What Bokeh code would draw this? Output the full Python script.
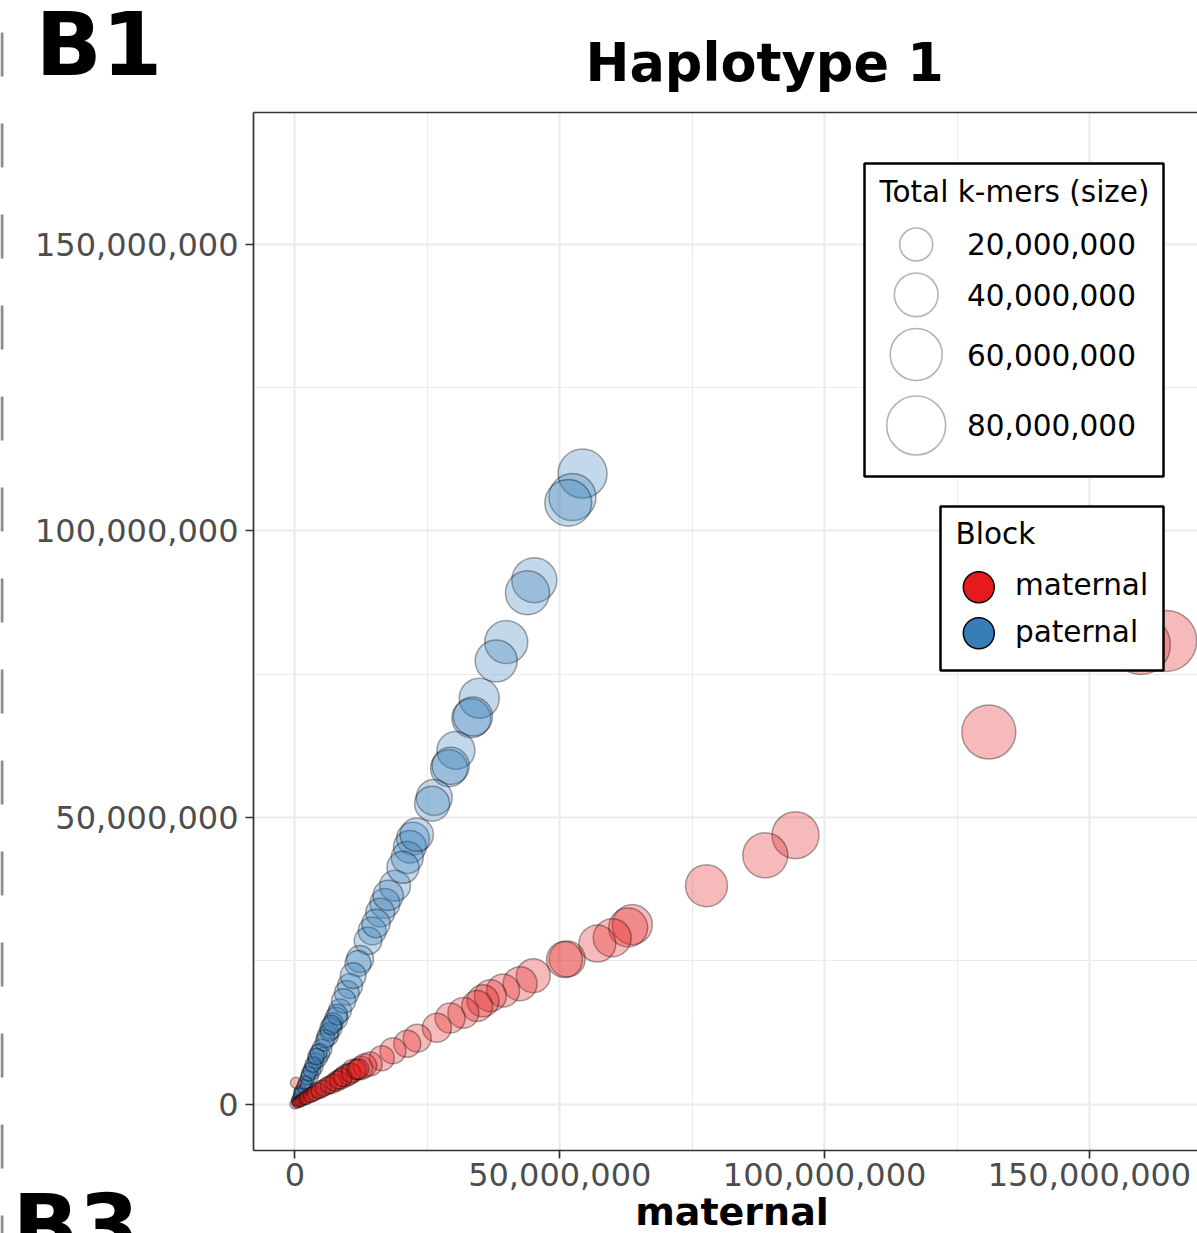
import math
from bokeh.plotting import figure
from bokeh.models import (ColumnDataSource, FixedTicker, NumeralTickFormatter, Label,
                          LinearAxis, Range1d, GridBox)
from bokeh.embed import file_html
from bokeh.resources import INLINE

# ---------------- data (millions of k-mers) ----------------
blocks = ["maternal", "paternal"]
block_colors = ["#E41A1C", "#377EB8"]
x_title = "maternal"
panel_title = "Haplotype 1"

pat_x = [54.3, 52.4, 51.6, 45.2, 43.9, 39.9, 38.0, 34.8, 33.3, 33.6, 30.4, 29.1, 29.4, 26.3,
         25.9, 22.3, 21.7, 21.2, 18.9, 17.0, 16.1, 14.6, 13.8, 12.3, 11.9, 10.4, 9.8, 8.5,
         7.8, 6.2, 5.1, 4.3, 3.6, 2.8, 2.1, 1.3, 0.8, 0.4, 1.0, 1.8, 3.2, 4.7, 6.8, 9.2,
         11.0, 15.3, 17.6, 20.4, 23.0,
         0.5, 1.1, 1.6, 2.4, 3.0, 3.9, 4.5, 5.5, 6.5, 7.2, 8.0,
         0.3, 0.9, 1.9, 2.6, 3.4, 4.0, 5.8, 6.9]
pat_y = [110.0, 105.9, 104.9, 91.4, 89.2, 80.6, 77.3, 70.8, 67.3, 67.6, 61.7, 58.6, 59.0, 53.5,
         52.4, 46.3, 44.9, 43.0, 38.1, 35.0, 33.4, 30.2, 28.5, 25.3, 24.5, 20.6, 19.4, 16.3,
         14.9, 11.9, 9.6, 8.0, 6.5, 4.9, 3.5, 2.3, 1.2, 0.5, 1.9, 3.0, 5.8, 8.8, 13.2, 18.0,
         22.4, 31.5, 36.4, 41.3, 47.0,
         0.9, 2.2, 3.1, 4.6, 5.9, 7.5, 9.0, 10.8, 12.6, 14.2, 15.6,
         0.6, 1.7, 3.8, 5.3, 6.9, 8.3, 11.4, 13.8]
pat_total = [52.3, 47.4, 47.0, 42.8, 40.5, 38.4, 36.3, 32.3, 30.3, 30.5, 28.5, 26.7, 27.0, 24.9,
             23.2, 20.0, 19.5, 18.5, 17.0, 15.7, 14.3, 13.0, 12.5, 11.8, 10.7, 9.6, 9.2, 7.6,
             7.4, 5.8, 5.0, 4.3, 3.6, 3.0, 1.9, 1.45, 0.74, 0.27, 1.2, 1.7, 3.3, 4.7, 6.6, 8.8,
             10.3, 13.5, 16.0, 18.5, 20.5,
             0.5, 0.8, 1.2, 1.6, 2.0, 2.5, 3.0, 3.6, 4.2, 4.8, 5.4,
             0.3, 0.6, 1.3, 1.8, 2.3, 2.8, 3.9, 4.6]

mat_x = [164.5, 159.7, 131.0, 94.5, 88.8, 77.7, 63.7, 62.9, 59.9, 57.1, 51.4, 50.9, 45.0, 42.5,
         39.3, 36.9, 35.5, 34.4, 31.8, 29.3, 26.8, 23.1, 21.2, 18.5, 16.4, 14.2, 11.0, 9.5,
         7.9, 6.0, 4.2, 2.5, 0.9, 0.0, 0.2, 0.4, 1.5, 3.3, 5.0, 7.0, 8.7, 10.2, 12.5, 13.2,
         0.6, 1.1, 1.8, 2.2, 2.9, 3.7, 4.5, 5.4, 6.4, 7.4, 8.2, 9.0, 10.6, 11.6, 12.0]
mat_y = [80.8, 80.1, 64.9, 46.9, 43.4, 38.1, 31.3, 30.8, 29.0, 28.0, 25.3, 25.2, 22.4, 21.0,
         19.8, 18.9, 18.0, 17.1, 15.9, 15.0, 13.3, 11.5, 10.5, 9.3, 8.0, 7.0, 5.8, 4.9,
         4.0, 3.1, 2.3, 1.4, 0.5, 0.0, 3.7, 0.2, 0.8, 1.7, 2.6, 3.5, 4.4, 5.2, 6.3, 6.7,
         0.3, 0.55, 0.95, 1.1, 1.5, 1.9, 2.3, 2.8, 3.3, 3.8, 4.2, 4.7, 5.4, 6.0, 6.1]
mat_total = [86.4, 80.1, 65.4, 47.4, 42.8, 36.3, 32.3, 30.3, 28.5, 26.7, 24.9, 24.9, 21.6, 21.6,
             20.0, 18.5, 18.5, 17.0, 17.0, 15.7, 14.3, 13.0, 11.8, 10.7, 9.6, 8.6, 7.6, 6.7,
             5.0, 3.6, 2.4, 1.45, 0.74, 0.27, 0.47, 0.3, 1.0, 2.0, 3.0, 4.2, 5.5, 6.5, 7.8, 8.2,
             0.4, 0.6, 0.9, 1.2, 1.5, 1.9, 2.2, 2.6, 3.0, 3.4, 3.8, 4.3, 4.8, 5.3, 5.5]

size_breaks = [20, 40, 60, 80]          # millions
size_break_labels = ["20,000,000", "40,000,000", "60,000,000", "80,000,000"]
x_ticks = [0, 50, 100, 150]
x_minor = [25, 75, 125]
y_ticks = [0, 50, 100, 150]
y_minor = [25, 75, 125]

M = 1e6

# ---------------- layout geometry ----------------
W, H = 1197, 1233
FL, FT, FR, FB = 253, 112, 1197, 1150
X0, X1 = -7.82e6, 170.4e6
Y0, Y1 = -8.11e6, 173.0e6
FONT = "DejaVu Sans"
BASE_FIX = 0.40   # alphabetic-baseline correction (em)


def size_px(t_millions):
    # area-type size scale (diameter in screen px)
    return 7.0 + 5.81 * math.sqrt(t_millions)


def sx(px):
    return px - FL


def sy(py):
    return FB - py


def xd(px):
    return X0 + (px - FL) / (FR - FL) * (X1 - X0)


def yd(py):
    return Y1 - (py - FT) / (FB - FT) * (Y1 - Y0)


p = figure(width=W, height=H, output_backend="svg", toolbar_location=None,
           x_range=Range1d(X0, X1), y_range=Range1d(Y0, Y1),
           min_border_left=FL, min_border_right=0, min_border_top=FT,
           min_border_bottom=H - FB, outline_line_color=None,
           background_fill_color="white", border_fill_color="white")
p.frame_align = False

# grids
for g in (p.xgrid[0], p.ygrid[0]):
    g.grid_line_color = "#EBEBEB"
    g.grid_line_width = 2.2
    g.minor_grid_line_color = "#EBEBEB"
    g.minor_grid_line_width = 1.1

p.xaxis[0].ticker = FixedTicker(ticks=[v * M for v in x_ticks], minor_ticks=[v * M for v in x_minor])
p.yaxis[0].ticker = FixedTicker(ticks=[v * M for v in y_ticks], minor_ticks=[v * M for v in y_minor])
p.xgrid[0].ticker = p.xaxis[0].ticker
p.ygrid[0].ticker = p.yaxis[0].ticker

for ax in (p.xaxis[0], p.yaxis[0]):
    ax.formatter = NumeralTickFormatter(format="0,0")
    ax.axis_line_color = "#333333"
    ax.axis_line_width = 1.7
    ax.major_tick_line_color = "#333333"
    ax.major_tick_line_width = 1.7
    ax.major_tick_in = 0
    ax.major_tick_out = 8
    ax.minor_tick_line_color = None
    ax.major_label_text_font = FONT
    ax.major_label_text_font_size = "32px"
    ax.major_label_text_color = "#4D4D4D"

p.yaxis[0].major_label_standoff = 7
p.xaxis[0].major_label_standoff = 4

top_axis = LinearAxis(ticker=FixedTicker(ticks=[]), axis_line_color="#333333",
                      axis_line_width=1.7, major_tick_line_color=None,
                      minor_tick_line_color=None, major_label_text_font_size="0px")
p.add_layout(top_axis, "above")


def make_src(xs, ys, ts):
    return ColumnDataSource(dict(x=[v * M for v in xs], y=[v * M for v in ys],
                                 total=[t * M for t in ts], size=[size_px(t) for t in ts]))


p.scatter("x", "y", size="size", source=make_src(pat_x, pat_y, pat_total),
          fill_color=block_colors[1], fill_alpha=0.3, line_color="black",
          line_alpha=0.35, line_width=1.5)
p.scatter("x", "y", size="size", source=make_src(mat_x, mat_y, mat_total),
          fill_color=block_colors[0], fill_alpha=0.3, line_color="black",
          line_alpha=0.35, line_width=1.5)

# ---------------- legends (drawn by hand) ----------------
p.quad(left=[xd(864)], right=[xd(1163)], top=[yd(163)], bottom=[yd(476)],
       fill_color="white", line_color="black", line_width=2.5)
key_y = [244, 294.3, 354, 425]
p.scatter(x=[xd(915.7)] * 4, y=[yd(v) for v in key_y],
          size=[size_px(b) for b in size_breaks], fill_color=None,
          line_color="#B3B3B3", line_width=1.6)


def lab(text, px, py, fs, bold=False):
    p.add_layout(Label(x=sx(px), y=sy(py - BASE_FIX * fs), x_units="screen", y_units="screen",
                       text=text, text_font=FONT, text_font_size=f"{fs}px",
                       text_font_style="bold" if bold else "normal",
                       text_color="black", text_align="left", text_baseline="alphabetic"))


LFS = 29.5
lab("Total k-mers (size)", 879, 203.3, LFS)
for t, by in zip(size_break_labels, [255, 306.7, 366.7, 436.7]):
    lab(t, 966.5, by, LFS)

p.quad(left=[xd(940)], right=[xd(1163)], top=[yd(506)], bottom=[yd(670)],
       fill_color="white", line_color="black", line_width=2.5)
p.scatter(x=[xd(978.3)] * 2, y=[yd(586.7), yd(632.7)], size=31,
          fill_color=block_colors, line_color="black", line_width=1.5)
lab("Block", 955, 545, LFS)
lab(blocks[0], 1014.5, 596.7, LFS)
lab(blocks[1], 1014.5, 643.3, LFS)

# ---------------- overlay: titles, panel letters, separator ----------------
ov = figure(width=W, height=H, output_backend="svg", toolbar_location=None,
            x_range=Range1d(0, W), y_range=Range1d(H, 0),
            x_axis_location=None, y_axis_location=None, min_border=0,
            outline_line_color=None, background_fill_color=None,
            border_fill_color=None)
ov.frame_align = False
ov.xgrid.visible = False
ov.ygrid.visible = False


def olab(text, px, py, fs, bold=True, align="left"):
    ov.add_layout(Label(x=px, y=py - BASE_FIX * fs, text=text, text_font=FONT,
                        text_font_size=f"{fs}px",
                        text_font_style="bold" if bold else "normal",
                        text_color="black", text_align=align, text_baseline="alphabetic"))


olab(panel_title, 585, 83, 52.5)
olab(x_title, 731.5, 1227, 38, align="center")
olab("B1", 35, 79, 87)
olab("B3", 12, 1261, 87)
ov.segment(x0=[1.5], y0=[0], x1=[1.5], y1=[H], line_color="#8C8C8C", line_width=3,
           line_dash="44 47", line_dash_offset=59)

layout = GridBox(children=[(p, 0, 0), (ov, 0, 0)])
open("out.html", "w").write(file_html(layout, INLINE))
